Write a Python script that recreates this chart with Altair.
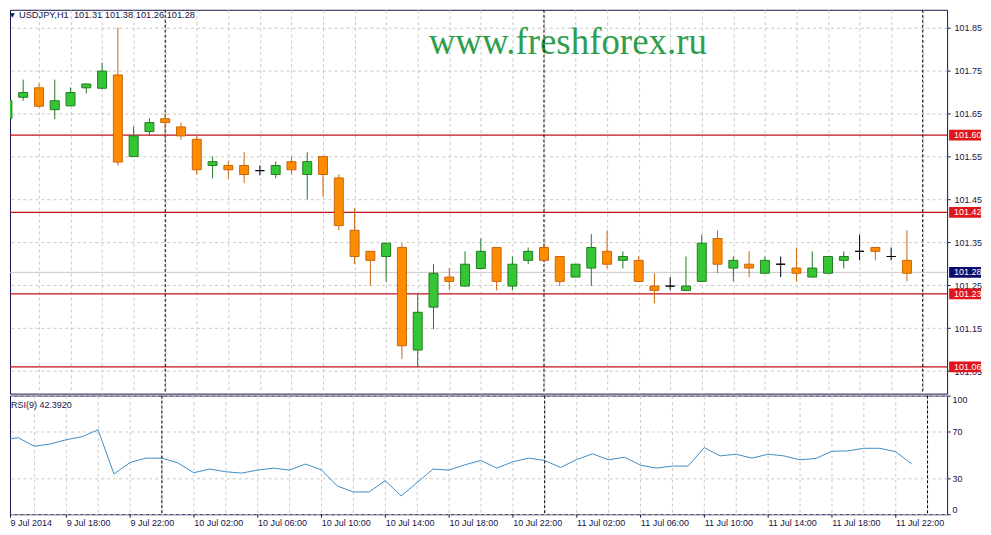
import json
import numpy as np
import pandas as pd
import altair as alt

# ---------------- data ----------------
hour_index = list(range(58))  # 0 = 9 Jul 14:00, one bar per hour
open_ = [101.638, 101.688, 101.710, 101.659, 101.668, 101.710, 101.709, 101.740, 101.550, 101.608,
         101.638, 101.619, 101.590, 101.529, 101.529, 101.529, 101.517, 101.508, 101.538, 101.508,
         101.550, 101.500, 101.378, 101.329, 101.317, 101.338, 101.099, 101.199, 101.269, 101.248,
         101.289, 101.338, 101.248, 101.308, 101.338, 101.317, 101.269, 101.290, 101.329, 101.308,
         101.308, 101.248, 101.248, 101.238, 101.259, 101.359, 101.290, 101.299, 101.278, 101.299,
         101.290, 101.269, 101.278, 101.308, 101.329, 101.338, 101.317, 101.308]
high_ = [101.690, 101.729, 101.720, 101.729, 101.711, 101.720, 101.769, 101.850, 101.620, 101.639,
         101.650, 101.629, 101.598, 101.550, 101.539, 101.560, 101.529, 101.538, 101.550, 101.560,
         101.551, 101.508, 101.429, 101.330, 101.349, 101.348, 101.230, 101.299, 101.290, 101.329,
         101.359, 101.339, 101.317, 101.338, 101.348, 101.318, 101.299, 101.369, 101.378, 101.329,
         101.317, 101.278, 101.269, 101.317, 101.368, 101.378, 101.317, 101.329, 101.317, 101.317,
         101.338, 101.329, 101.317, 101.329, 101.368, 101.339, 101.338, 101.378]
low_ = [101.628, 101.680, 101.664, 101.637, 101.668, 101.697, 101.707, 101.529, 101.549, 101.598,
        101.591, 101.589, 101.508, 101.499, 101.498, 101.488, 101.506, 101.499, 101.508, 101.450,
        101.457, 101.378, 101.299, 101.248, 101.258, 101.078, 101.059, 101.148, 101.238, 101.247,
        101.288, 101.238, 101.238, 101.299, 101.308, 101.248, 101.269, 101.248, 101.289, 101.289,
        101.259, 101.208, 101.238, 101.237, 101.258, 101.278, 101.259, 101.269, 101.277, 101.269,
        101.259, 101.268, 101.277, 101.289, 101.308, 101.308, 101.308, 101.259]
close_ = [101.680, 101.699, 101.667, 101.680, 101.699, 101.719, 101.749, 101.537, 101.598, 101.629,
          101.629, 101.598, 101.519, 101.538, 101.519, 101.508, 101.517, 101.529, 101.519, 101.538,
          101.508, 101.389, 101.317, 101.308, 101.348, 101.109, 101.187, 101.278, 101.259, 101.299,
          101.329, 101.259, 101.299, 101.329, 101.308, 101.259, 101.299, 101.338, 101.299, 101.317,
          101.259, 101.238, 101.248, 101.248, 101.348, 101.299, 101.308, 101.290, 101.308, 101.299,
          101.278, 101.290, 101.317, 101.317, 101.329, 101.329, 101.317, 101.278]
rsi_values = [62.8, 64.5, 57.3, 59.2, 62.8, 65.4, 71.2, 33.9, 43.6, 47.3,
              47.3, 43.3, 35.0, 38.1, 35.8, 34.7, 37.2, 38.9, 37.2, 42.3,
              37.5, 23.8, 18.8, 18.8, 28.3, 15.5, 26.6, 38.1, 37.2, 41.7,
              45.3, 38.9, 44.2, 47.3, 45.3, 39.4, 46.1, 50.9, 45.9, 48.1,
              41.4, 38.9, 40.6, 40.6, 56.2, 49.2, 50.6, 47.3, 50.6, 49.2,
              45.9, 47.0, 53.1, 53.4, 55.6, 55.6, 52.8, 42.4]
x_tick_labels = ["9 Jul 2014", "9 Jul 18:00", "9 Jul 22:00", "10 Jul 02:00", "10 Jul 06:00",
                 "10 Jul 10:00", "10 Jul 14:00", "10 Jul 18:00", "10 Jul 22:00", "11 Jul 02:00",
                 "11 Jul 06:00", "11 Jul 10:00", "11 Jul 14:00", "11 Jul 18:00", "11 Jul 22:00"]
price_ticks = [101.05, 101.15, 101.25, 101.35, 101.45, 101.55, 101.65, 101.75, 101.85]
level_prices = [101.60, 101.42, 101.23, 101.06]
bid_price = [101.28]
day_separators = [10, 34, 58]
rsi_ticks = [0, 30, 70, 100]
title_text = "USDJPY,H1\u00a0 101.31 101.38 101.26 101.28"
rsi_text = "RSI(9) 42.3920"
watermark_text = "www.freshforex.ru"

# ---------------- layout / style ----------------
W = 940
H_MAIN = 385
H_RSI = 119
X_DOMAIN = [0.48, 59.23]
P_DOMAIN = [100.9975, 101.8918]
NAVY = "#14144a"
FONT = "Liberation Sans"
GRID = "#c8c8c8"

df = pd.DataFrame({"i": hour_index, "o": open_, "h": high_, "l": low_, "c": close_, "rsi": rsi_values})
df["dir"] = np.where(df.c > df.o, "up", np.where(df.c < df.o, "down", "doji"))
df["top"] = df[["o", "c"]].max(axis=1)
df["bot"] = df[["o", "c"]].min(axis=1)

lv = pd.DataFrame({"price": level_prices})
lv["lo"] = lv.price - 0.0125
lv["hi"] = lv.price + 0.0125
lv["label"] = lv.price.map(lambda v: f"{v:.2f}")
bid = pd.DataFrame({"price": bid_price})
bid["lo"] = bid.price - 0.0125
bid["hi"] = bid.price + 0.0125
bid["label"] = bid.price.map(lambda v: f"{v:.2f}")
sep = pd.DataFrame({"i": day_separators})

xs = alt.Scale(domain=X_DOMAIN, nice=False, zero=False)
ys = alt.Scale(domain=P_DOMAIN, nice=False, zero=False)
rs = alt.Scale(domain=[0, 100], nice=False, zero=False)
grid_vals = list(range(2, 59, 2))

x_axis_main = alt.Axis(values=grid_vals, grid=True, gridColor=GRID, gridDash=[3, 3], labels=False,
                       ticks=False, domain=False, title=None)
y_axis_main = alt.Axis(orient="right", values=price_ticks, format=".2f", grid=True, gridColor=GRID,
                       gridDash=[3, 3], labelFont=FONT, labelFontSize=9, labelColor=NAVY, tickColor=NAVY,
                       tickSize=3, labelPadding=4, domain=False, title=None, labelOverlap=False, zindex=0)


def X(f):
    return alt.X(f, type="quantitative", scale=xs, axis=x_axis_main)


def Y(f):
    return alt.Y(f, type="quantitative", scale=ys, axis=y_axis_main)


dirs = ["up", "down", "doji"]
fill_scale = alt.Scale(domain=dirs, range=["#34c634", "#ff8c00", "#000000"])
stroke_scale = alt.Scale(domain=dirs, range=["#237a23", "#c9650c", "#000000"])

bid_line = alt.Chart(bid).mark_rule(color="#c8c8c8", strokeWidth=1).encode(y=Y("price"))
level_lines = alt.Chart(lv).mark_rule(color="#c0101a", strokeWidth=1.2).encode(y=Y("price"))
seps = alt.Chart(sep).mark_rule(color="black", strokeDash=[3, 2], strokeWidth=1).encode(x=X("i"))
one = pd.DataFrame({"t": [watermark_text]})
wm = alt.Chart(one).mark_text(font="Liberation Serif", fontSize=37, color="#2f9e4c", align="left",
                              baseline="alphabetic").encode(x=alt.value(420), y=alt.value(44.7), text="t:N")
wicks = alt.Chart(df).mark_rule(strokeWidth=1, clip=True).encode(
    x=X("i"), y=Y("l"), y2="h", color=alt.Color("dir:N", scale=stroke_scale, legend=None))
bodies = alt.Chart(df).mark_bar(size=9, strokeWidth=1, clip=True).encode(
    x=X("i"), y=Y("bot"), y2="top",
    fill=alt.Fill("dir:N", scale=fill_scale, legend=None),
    stroke=alt.Stroke("dir:N", scale=stroke_scale, legend=None))
lv_box = alt.Chart(lv).mark_rect(color="#e0141a").encode(
    x=alt.value(W + 2), x2=alt.value(W + 34), y=Y("lo"), y2="hi")
bid_box = alt.Chart(bid).mark_rect(color="#0c0c6e").encode(
    x=alt.value(W + 2), x2=alt.value(W + 34), y=Y("lo"), y2="hi")
lv_txt = alt.Chart(pd.concat([lv, bid])).mark_text(align="left", baseline="middle", color="white",
                                                    font=FONT, fontSize=9).encode(
    x=alt.value(W + 7), y=Y("price"), text="label:N")
ttl = alt.Chart(pd.DataFrame({"t": [title_text]})).mark_text(
    align="left", baseline="middle", color=NAVY, font=FONT, fontSize=9.3).encode(
    x=alt.value(9), y=alt.value(5), text="t:N")
tri = alt.Chart(pd.DataFrame({"t": ["\u25bc"]})).mark_text(
    align="left", baseline="middle", color=NAVY, font="DejaVu Sans", fontSize=6).encode(
    x=alt.value(0), y=alt.value(5), text="t:N")

main = alt.layer(bid_line, level_lines, wm, seps, wicks, bodies, lv_box, bid_box, lv_txt, ttl, tri).properties(
    width=W, height=H_MAIN)

# ---------------- RSI panel ----------------
label_js = json.dumps(x_tick_labels).replace('"', "'")
x_axis_rsi = alt.Axis(
    values=[X_DOMAIN[0]] + grid_vals, grid=True, gridColor=GRID, gridDash=[3, 3],
    gridOpacity={"condition": {"test": "datum.value < 1", "value": 0}, "value": 1},
    tickOpacity={"condition": {"test": "datum.value < 1 || datum.value % 4 == 0", "value": 1}, "value": 0},
    labelExpr=f"datum.value < 1 ? {label_js}[0] : (datum.value % 4 == 0 ? {label_js}[datum.value / 4] : '')",
    labelAlign="left", labelBaseline="top", labelPadding=1, tickSize=3, tickColor=NAVY, labelColor=NAVY,
    labelFont=FONT, labelFontSize=9, domain=False, title=None, labelOverlap=False)
y_axis_rsi = alt.Axis(orient="right", values=rsi_ticks, grid=True, gridColor=GRID, gridDash=[3, 3],
                      labelFlush=True, tickSize=3, labelPadding=2, labelFont=FONT, labelFontSize=9,
                      labelColor=NAVY, tickColor=NAVY, domain=False, title=None, labelOverlap=False)

rsi_line = alt.Chart(df).mark_line(color="#3e8ec4", strokeWidth=1, clip=True).encode(
    x=alt.X("i:Q", scale=xs, axis=x_axis_rsi), y=alt.Y("rsi:Q", scale=rs, axis=y_axis_rsi))
rsi_seps = alt.Chart(sep).mark_rule(color="black", strokeDash=[3, 2], strokeWidth=1).encode(
    x=alt.X("i:Q", scale=xs, axis=x_axis_rsi))
rsi_lbl = alt.Chart(pd.DataFrame({"t": [rsi_text]})).mark_text(
    align="left", baseline="middle", color=NAVY, font=FONT, fontSize=9).encode(
    x=alt.value(1), y=alt.value(9), text="t:N")
rsi = alt.layer(rsi_line, rsi_seps, rsi_lbl).properties(width=W, height=H_RSI)

chart = alt.vconcat(main, rsi, spacing=2, bounds="flush").properties(
    padding=0, background="white").configure_view(stroke=NAVY, strokeWidth=1)

chart.save("out.html", embed_options={"renderer": "svg", "actions": False})
